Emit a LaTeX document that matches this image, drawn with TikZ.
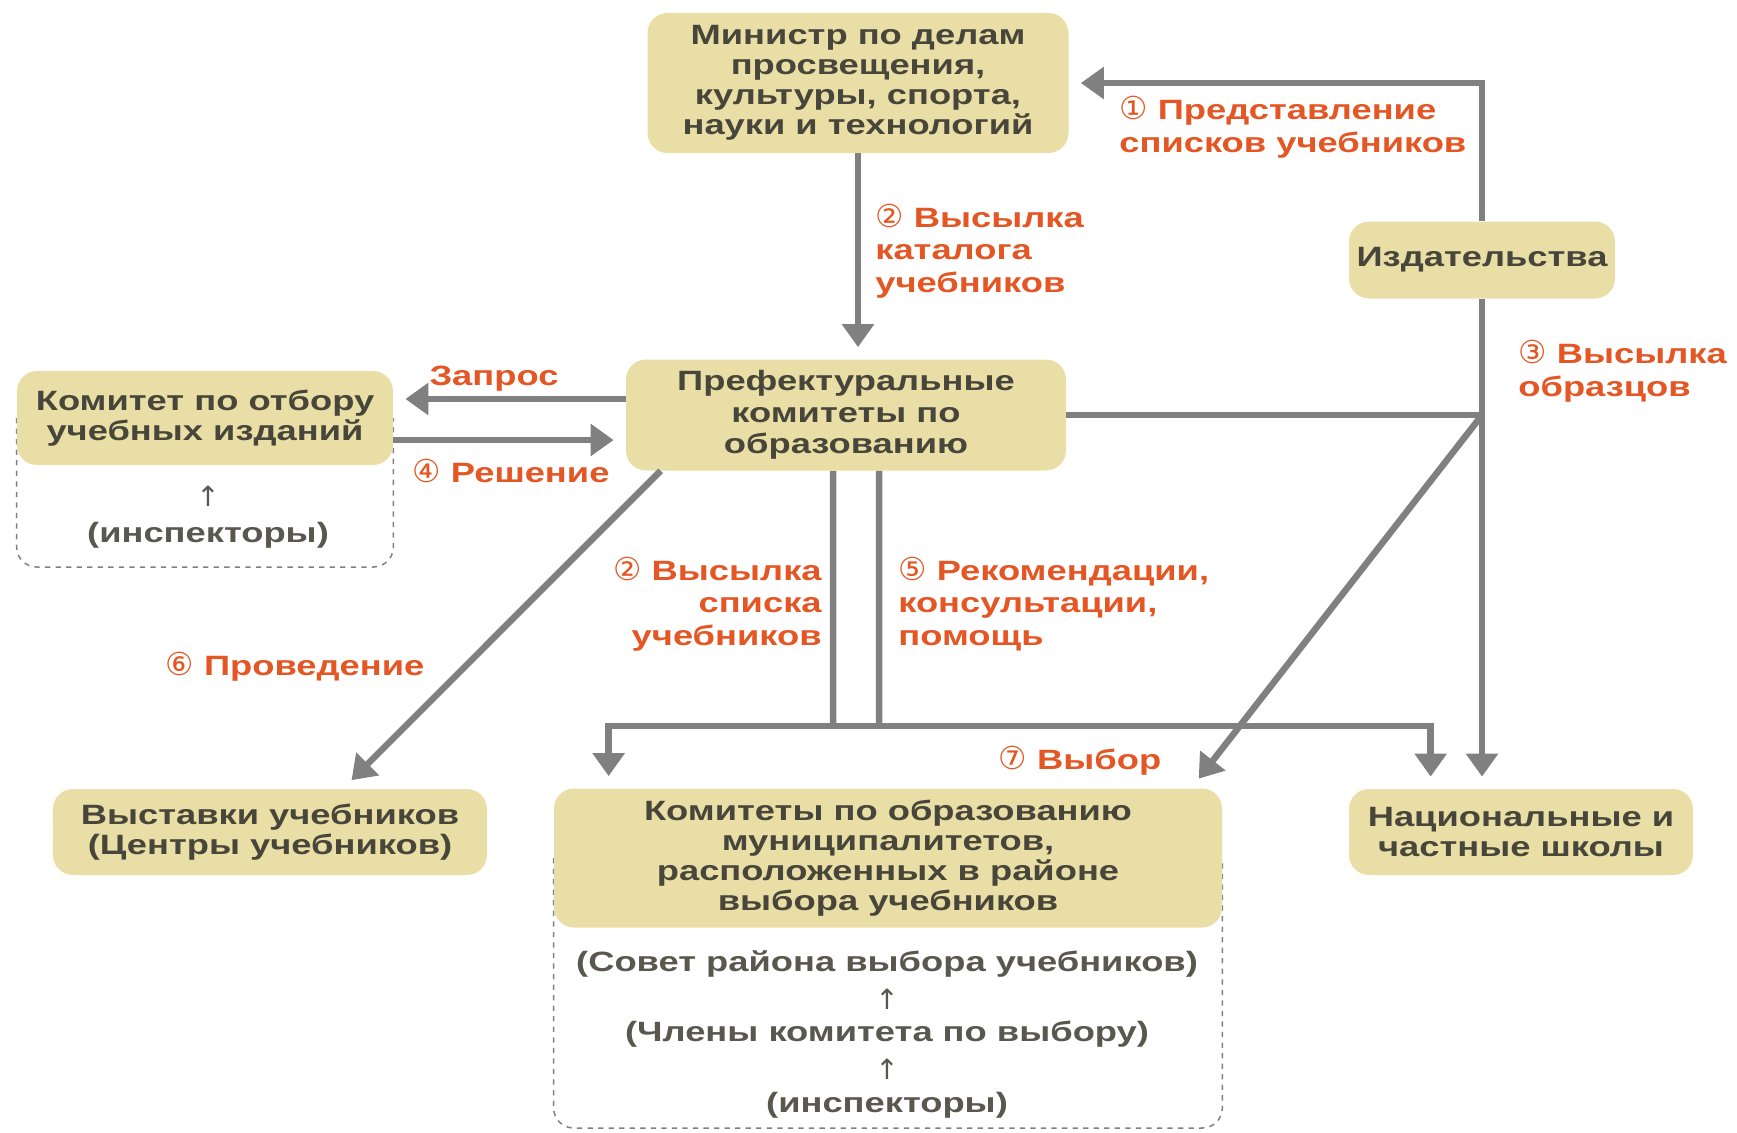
\documentclass[tikz,border=0pt]{standalone}
\usepackage{fontspec}
\setmainfont{Liberation Sans}[FakeStretch=1.3]
\newfontfamily\symfont{DejaVu Sans}
\usetikzlibrary{arrows.meta,backgrounds}
\definecolor{boxfill}{RGB}{233,223,166}
\definecolor{boxtext}{RGB}{72,70,58}
\definecolor{lblorange}{RGB}{228,86,36}
\definecolor{arrgray}{RGB}{128,128,128}
\newcommand{\cnum}[1]{{\symfont\mdseries\fontsize{18}{18}\selectfont #1}}

\begin{document}
\begin{tikzpicture}[x=0.2mm,y=-0.2mm,
    box/.style={fill=boxfill, rounded corners=4mm, text=boxtext, align=center,
        inner sep=0pt, font=\bfseries\fontsize{15.9}{17}\selectfont},
    lbl/.style={text=lblorange, inner sep=0pt, font=\bfseries\fontsize{15.9}{18.5}\selectfont},
    sub/.style={text=boxtext!90, inner sep=0pt, font=\bfseries\fontsize{15.9}{17}\selectfont},
    link/.style={draw=arrgray, line width=1.3mm},
    arr/.style={link, -{Triangle[length=4.6mm,width=6.2mm]}, shorten >=2.4mm},
    dashbox/.style={draw=arrgray, dashed, line width=0.3mm, rounded corners=4mm}]
    \useasboundingbox (0,0) rectangle (1737,1133);

    % boxes
    \node[box, minimum width=84.2mm, minimum height=28mm] (min) at (858,83)
        {Министр по делам\\просвещения,\\культуры, спорта,\\науки и технологий};
    \node[box, minimum width=53.2mm, minimum height=15.4mm] (izd) at (1482,260) {Издательства};
    \node[box, minimum width=88mm, minimum height=22.2mm, font=\bfseries\fontsize{15.9}{18}\selectfont] (pref) at (846,415)
        {Префектуральные\\комитеты по\\образованию};
    \node[box, minimum width=75.2mm, minimum height=18.8mm] (otb) at (205,418)
        {Комитет по отбору\\учебных изданий};
    \node[box, minimum width=86.8mm, minimum height=17.2mm] (vyst) at (270,832)
        {Выставки учебников\\(Центры учебников)};
    \node[box, minimum width=133.6mm, minimum height=27.8mm] (mun) at (888,858)
        {Комитеты по образованию\\муниципалитетов,\\расположенных в районе\\выбора учебников};
    \node[box, minimum width=68.8mm, minimum height=17.2mm] (shk) at (1521,832)
        {Национальные и\\частные школы};

    % dashed frames
    \begin{scope}[on background layer]
        \draw[dashbox] (otb.west) -- (otb.west |- 0,567) -- (otb.east |- 0,567) -- (otb.east);
        \draw[dashbox] (mun.west) -- (mun.west |- 0,1128) -- (mun.east |- 0,1128) -- (mun.east);
    \end{scope}
    \node[sub] (o1) at (208,496) {\symfont\mdseries ↑};
    \node[sub] (o2) at (208,535) {(инспекторы)};
    \node[sub] (m1) at (887,964) {(Совет района выбора учебников)};
    \node[sub] (m2) at (887,999) {\symfont\mdseries ↑};
    \node[sub] (m3) at (887,1034) {(Члены комитета по выбору)};
    \node[sub] (m4) at (887,1069) {\symfont\mdseries ↑};
    \node[sub] (m5) at (887,1105) {(инспекторы)};

    % connectors
    \coordinate (j) at (izd.south |- pref.east);
    \coordinate (a) at (833,726);
    \coordinate (b) at (879,726);
    \draw[arr] (izd.north) |- (min.east);
    \draw[arr] (min.south) -- (min.south |- pref.north);
    \draw[arr] (pref.west |- 0,399) -- (otb.east |- 0,399);
    \draw[arr] (otb.east |- 0,440) -- (pref.west |- 0,440);
    \draw[link] (pref.east) -- (j);
    \draw[arr] (izd.south) -- (izd.south |- shk.north);
    \draw[arr] (j) -- ([xshift=-6.2mm]mun.north east);
    \draw[link] ([xshift=-2.6mm]pref.south) -- (a);
    \draw[link] ([xshift=6.6mm]pref.south) -- (b);
    \draw[arr] (b) -| ([xshift=11mm]mun.north west);
    \draw[arr] (a) -| ([xshift=16.4mm]shk.north west);
    \draw[arr] ([xshift=7mm]pref.south west) -- ([xshift=14.6mm]vyst.north);

    % labels
    \node[lbl, anchor=west, align=left] (l1) at (1119,127) {\cnum{①} Представление\\списков учебников};
    \node[lbl, anchor=west, align=left] (l2) at (875,251) {\cnum{②} Высылка\\каталога\\учебников};
    \node[lbl] (lz) at (494,379) {Запрос};
    \node[lbl] (l4) at (511,471) {\cnum{④} Решение};
    \node[lbl, anchor=west, align=left] (l3) at (1518,371) {\cnum{③} Высылка\\образцов};
    \node[lbl, anchor=east, align=right] (l2b) at (822,604) {\cnum{②} Высылка\\списка\\учебников};
    \node[lbl, anchor=west, align=left] (l5) at (898,604) {\cnum{⑤} Рекомендации,\\консультации,\\помощь};
    \node[lbl] (l6) at (295,667) {\cnum{⑥} Проведение};
    \node[lbl] (l7) at (1080,761) {\cnum{⑦} Выбор};
\end{tikzpicture}
\end{document}
